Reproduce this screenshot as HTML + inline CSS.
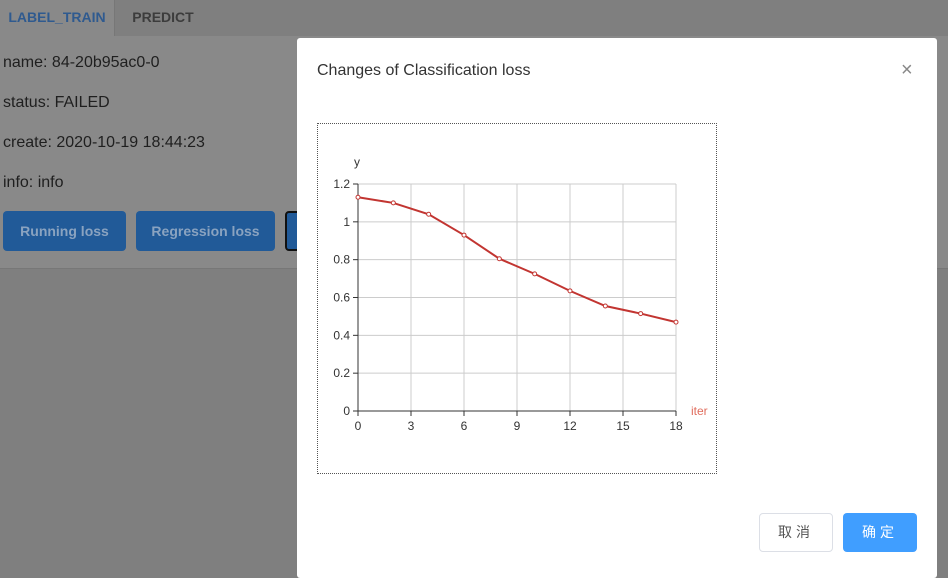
<!DOCTYPE html>
<html><head><meta charset="utf-8">
<style>
body{margin:0;width:948px;height:570px;overflow:hidden;background:#7f7f7f;font-family:"Liberation Sans","Noto Sans CJK SC",sans-serif;position:relative}
.abs{position:absolute}
.tabbar{left:0;top:0;width:948px;height:36px;background:#7f7f7f;border-bottom:1px solid #777}
.tab{top:0;height:36px;line-height:34px;font-size:14px;font-weight:bold;text-align:center}
.content{left:0;top:36px;width:948px;height:232px;background:#898989;border-bottom:1px solid #777}
.info{left:3px;font-size:16px;color:#1f1f1f}
.btn{top:211px;height:40px;background:#215a98;color:#8aa3c0;border-radius:4px;font-size:14px;font-weight:bold;text-align:center;line-height:40px}
.modal{left:297px;top:38px;width:640px;height:540px;background:#fff;border-radius:3px}
</style></head><body>
<div class="abs tabbar"></div>
<div class="abs content"></div>
<div class="abs tab" style="left:0;width:114px;background:#898989;color:#2f5a8f;height:37px">LABEL_TRAIN</div>
<div class="abs tab" style="left:114px;width:96px;color:#3c3c3c;border-left:1px solid #777">PREDICT</div>
<div class="abs info" style="top:54px">name: 84-20b95ac0-0</div>
<div class="abs info" style="top:94px">status: FAILED</div>
<div class="abs info" style="top:134px">create: 2020-10-19 18:44:23</div>
<div class="abs info" style="top:174px">info: info</div>
<div class="abs btn" style="left:3px;width:123px">Running loss</div>
<div class="abs btn" style="left:136px;width:139px">Regression loss</div>
<div class="abs btn" style="left:285px;width:20px;border:2px solid #111;box-sizing:border-box"></div>

<div class="abs modal">
  <div class="abs" style="left:20px;top:24px;font-size:16px;color:#333">Changes of Classification loss</div>
  <div class="abs" style="left:604px;top:20px;font-size:20px;color:#888;line-height:24px">×</div>
  <div class="abs" style="left:20px;top:85px;width:398px;height:349px;border:1px dotted #555"></div>
  <div class="abs" style="left:462px;top:475px;width:72px;height:37px;border:1px solid #dcdfe6;border-radius:4px;text-align:center;line-height:37px;font-size:14px;color:#555;letter-spacing:4px">取消</div>
  <div class="abs" style="left:546px;top:475px;width:74px;height:39px;background:#409eff;border-radius:4px;text-align:center;line-height:39px;font-size:14px;color:#fff;letter-spacing:4px">确定</div>
</div>

<svg class="abs" style="left:0;top:0" width="948" height="570">
  <g id="grid"></g><g id="axes"></g><g id="series"></g>
</svg>
<script>
const xValues=[0,2,4,6,8,10,12,14,16,18];
const lossValues=[1.13,1.10,1.04,0.93,0.805,0.725,0.635,0.555,0.515,0.47];
const xTicks=[0,3,6,9,12,15,18];
const yTicks=[0,0.2,0.4,0.6,0.8,1,1.2];
const X0=358,X1=676,Y0=411,Y1=184;
const sx=v=>X0+(v-0)/(18-0)*(X1-X0);
const sy=v=>Y0-(v-0)/(1.2-0)*(Y0-Y1);
const NS="http://www.w3.org/2000/svg";
function mk(tag,attrs,parent){const e=document.createElementNS(NS,tag);for(const k in attrs)e.setAttribute(k,attrs[k]);parent.appendChild(e);return e;}
const grid=document.getElementById('grid'),axes=document.getElementById('axes'),series=document.getElementById('series');
xTicks.forEach(t=>{
  if(t>0){const l=mk('line',{x1:sx(t),x2:sx(t),y1:Y1,y2:Y0,stroke:'#ccc'},grid);
  
  }
  const k=mk('line',{x1:sx(t),x2:sx(t),y1:Y0,y2:Y0+5,stroke:'#333'},axes);
  
  
  const tx=mk('text',{x:sx(t),y:Y0+19,'text-anchor':'middle','font-size':12,fill:'#333','font-family':'Liberation Sans'},axes);
  tx.textContent=t;
  
  
});
yTicks.forEach(t=>{
  if(t>0){const l=mk('line',{x1:X0,x2:X1,y1:sy(t),y2:sy(t),stroke:'#ccc'},grid);
  
  }
  const k=mk('line',{x1:X0-5,x2:X0,y1:sy(t),y2:sy(t),stroke:'#333'},axes);
  
  
  const tx=mk('text',{x:X0-8,y:sy(t)+4,'text-anchor':'end','font-size':12,fill:'#333','font-family':'Liberation Sans'},axes);
  tx.textContent=t;
  
  
});
const xa=mk('line',{x1:X0,x2:X1,y1:Y0,y2:Y0,stroke:'#333'},axes);


const ya=mk('line',{x1:X0,x2:X0,y1:Y1,y2:Y0,stroke:'#333'},axes);


const yt=mk('text',{x:357,y:166,'text-anchor':'middle','font-size':12,fill:'#333','font-family':'Liberation Sans'},axes);
yt.textContent='y';


const xt=mk('text',{x:691,y:415,'font-size':12,fill:'#e06c5c','font-family':'Liberation Sans'},axes);
xt.textContent='iter';


const pts=xValues.map((x,i)=>sx(x)+','+sy(lossValues[i])).join(' ');
const line=mk('polyline',{points:pts,fill:'none',stroke:'#c23531','stroke-width':2},series);


xValues.forEach((x,i)=>{
  const c=mk('circle',{cx:sx(x),cy:sy(lossValues[i]),r:2,fill:'#fff',stroke:'#c23531','stroke-width':1},series);
  
  
});
</script>
</body></html>
